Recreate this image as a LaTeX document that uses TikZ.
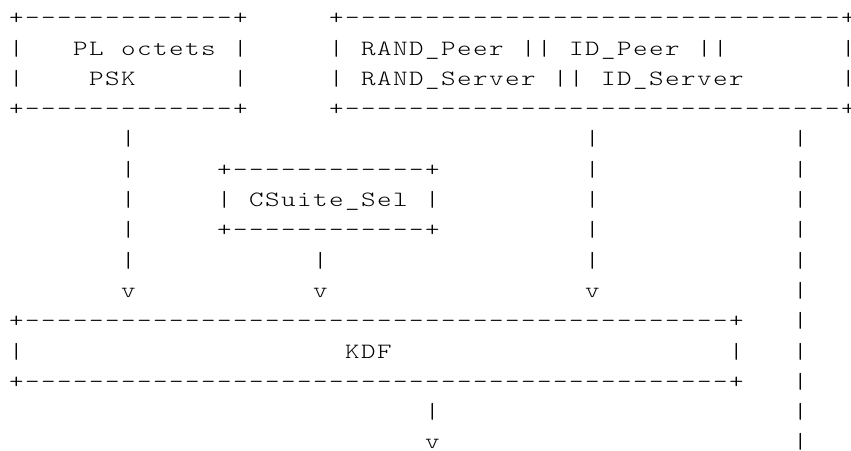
\documentclass[tikz,border=0pt]{standalone}
\usepackage{fontspec}
\newfontfamily\ascfont{lmmonolt10-regular.otf}[FakeStretch=1.27]
\ExplSyntaxOn
\str_new:N \l_asc_row_str
\cs_new_protected:Npn \asciirow #1
  {
    \str_set:Nx \l_asc_row_str {#1}
    \str_map_inline:Nn \l_asc_row_str
      {
        \str_if_eq:nnTF {##1} {.}
          { \hbox_to_wd:nn {16pt} {\hfil} }
          { \hbox_to_wd:nn {16pt} {\hfil ##1 \hfil} }
      }
  }
\cs_new:Npn \rdot #1 { \prg_replicate:nn {#1} {.} }
\cs_new:Npn \rdash #1 { \prg_replicate:nn {#1} {-} }
\ExplSyntaxOff
\begin{document}
\begin{tikzpicture}[x=1pt,y=1pt,
  asc/.style={anchor=base west, inner sep=0pt, outer sep=0pt,
    font=\ascfont\fontsize{21.8pt}{25pt}\selectfont, text=black}]
\useasboundingbox (0,0) rectangle (851,-450);
\node[asc] (r01) at (8.5,-24.7) {\asciirow{+\rdash{13}+\rdot{5}+\rdash{31}+}};
\node[asc] (r02) at (8.5,-55.0) {\asciirow{|\rdot{3}PL.octets.|\rdot{5}|.RAND_Peer.||.ID_Peer.||\rdot{7}|}};
\node[asc] (r03) at (8.5,-85.3) {\asciirow{|\rdot{4}PSK\rdot{6}|\rdot{5}|.RAND_Server.||.ID_Server\rdot{6}|}};
\node[asc] (r04) at (8.5,-115.6) {\asciirow{+\rdash{13}+\rdot{5}+\rdash{31}+}};
\node[asc] (r05) at (8.5,-145.9) {\asciirow{\rdot{7}|\rdot{28}|\rdot{12}|}};
\node[asc] (r06) at (8.5,-176.2) {\asciirow{\rdot{7}|\rdot{5}+\rdash{12}+\rdot{9}|\rdot{12}|}};
\node[asc] (r07) at (8.5,-206.5) {\asciirow{\rdot{7}|\rdot{5}|.CSuite_Sel.|\rdot{9}|\rdot{12}|}};
\node[asc] (r08) at (8.5,-236.8) {\asciirow{\rdot{7}|\rdot{5}+\rdash{12}+\rdot{9}|\rdot{12}|}};
\node[asc] (r09) at (8.5,-267.1) {\asciirow{\rdot{7}|\rdot{11}|\rdot{16}|\rdot{12}|}};
\node[asc] (r10) at (8.5,-297.4) {\asciirow{\rdot{7}v\rdot{11}v\rdot{16}v\rdot{12}|}};
\node[asc] (r11) at (8.5,-327.7) {\asciirow{+\rdash{44}+\rdot{3}|}};
\node[asc] (r12) at (8.5,-358.0) {\asciirow{|\rdot{20}KDF\rdot{21}|\rdot{3}|}};
\node[asc] (r13) at (8.5,-388.3) {\asciirow{+\rdash{44}+\rdot{3}|}};
\node[asc] (r14) at (8.5,-418.6) {\asciirow{\rdot{26}|\rdot{22}|}};
\node[asc] (r15) at (8.5,-448.9) {\asciirow{\rdot{26}v\rdot{22}|}};
\end{tikzpicture}
\end{document}
